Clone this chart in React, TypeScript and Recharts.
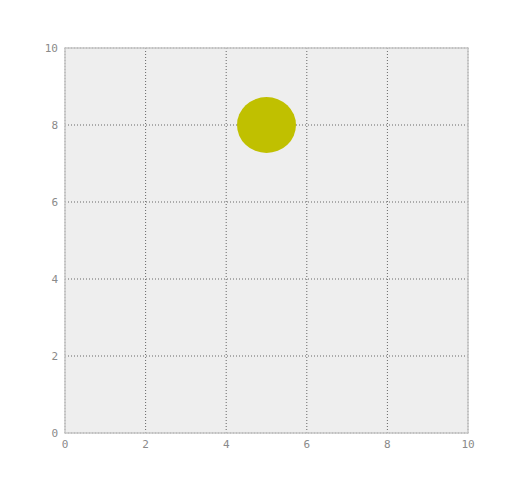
import React from 'react';
import { ScatterChart, Scatter, XAxis, YAxis, CartesianGrid, ReferenceArea } from 'recharts';

const xValues = [5];
const yValues = [8];
const ticks = [0, 2, 4, 6, 8, 10];

const data = xValues.map((x, i) => ({ x, y: yValues[i] }));

const Bubble = (props: any) => {
  const { cx, cy } = props;
  return <ellipse cx={cx} cy={cy} rx={29.5} ry={28} fill="#c0c000" />;
};

const tickStyle = { fill: '#8a8a8a', fontSize: 11, fontFamily: 'DejaVu Sans Mono' };

const App: React.FC = () => {
  return (
    <ScatterChart width={520} height={482} margin={{ top: 40, right: 60, bottom: 0, left: 0 }}>
      <CartesianGrid fill="#eeeeee" stroke="#666" strokeDasharray="1 2" />
      <XAxis
        type="number"
        dataKey="x"
        domain={[0, 10]}
        ticks={ticks}
        tickLine={false}
        axisLine={false}
        tick={tickStyle}
        height={57}
        tickMargin={1}
      />
      <YAxis
        type="number"
        dataKey="y"
        domain={[0, 10]}
        ticks={ticks}
        tickLine={false}
        axisLine={false}
        tick={tickStyle}
        width={57}
        tickMargin={1}
      />
      <ReferenceArea x1={0} x2={10} y1={0} y2={10} fill="none" stroke="#c8c8c8" strokeWidth={1.5} />
      <Scatter data={data} shape={<Bubble />} isAnimationActive={false} />
    </ScatterChart>
  );
};

export default App;
